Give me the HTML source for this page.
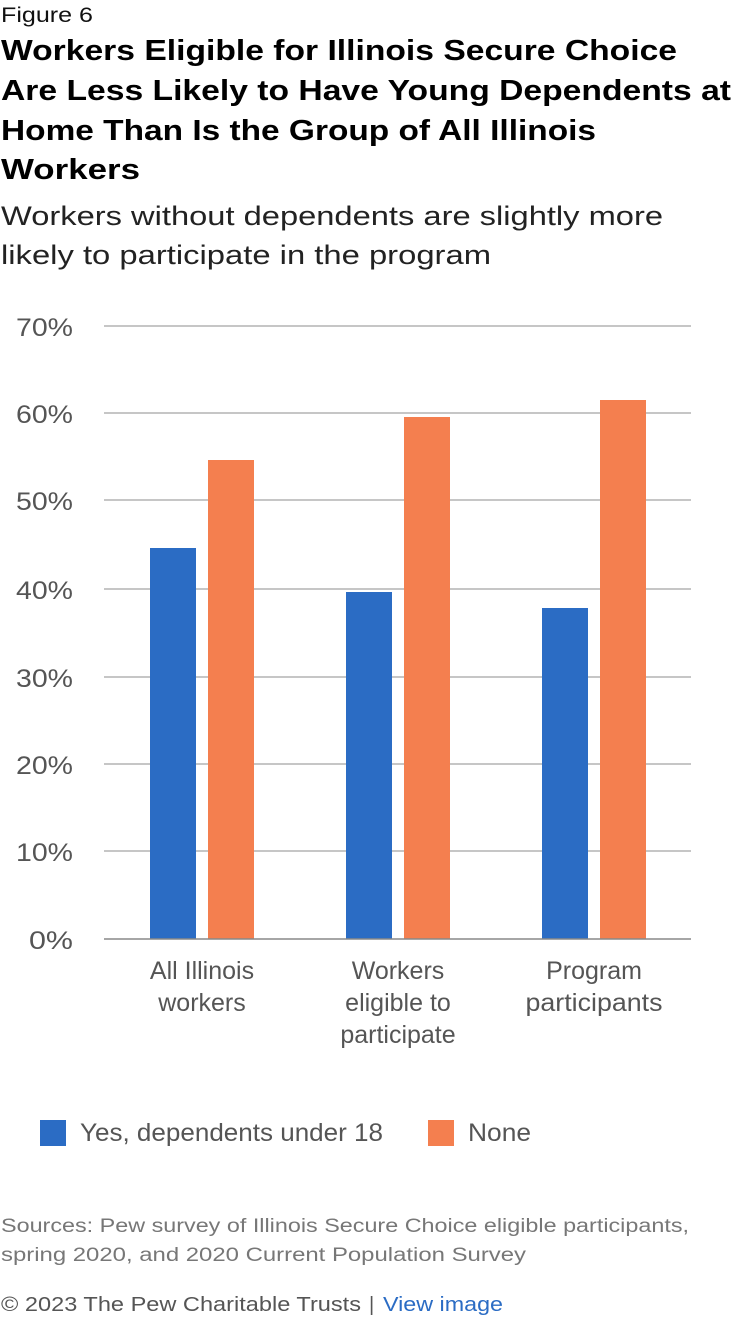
<!DOCTYPE html>
<html><head><meta charset="utf-8"><style>
html,body{margin:0;padding:0;background:#fff;}
svg{display:block;font-family:"Liberation Sans",sans-serif;}
</style></head><body>
<svg width="732" height="1318" viewBox="0 0 732 1318" xmlns="http://www.w3.org/2000/svg">
<text x="1" y="22" font-size="21" fill="#111" textLength="92" lengthAdjust="spacingAndGlyphs">Figure 6</text>
<g font-size="29" font-weight="bold" fill="#000">
<text x="1" y="60" textLength="676" lengthAdjust="spacingAndGlyphs">Workers Eligible for Illinois Secure Choice</text>
<text x="1" y="100" textLength="730" lengthAdjust="spacingAndGlyphs">Are Less Likely to Have Young Dependents at</text>
<text x="1" y="140" textLength="595" lengthAdjust="spacingAndGlyphs">Home Than Is the Group of All Illinois</text>
<text x="1" y="179" textLength="139" lengthAdjust="spacingAndGlyphs">Workers</text>
</g>
<g font-size="27" fill="#222">
<text x="1" y="225" textLength="662" lengthAdjust="spacingAndGlyphs">Workers without dependents are slightly more</text>
<text x="1" y="264" textLength="490" lengthAdjust="spacingAndGlyphs">likely to participate in the program</text>
</g>
<g stroke="#b3b3b3" stroke-width="1.5">
<line x1="104" y1="326" x2="691" y2="326"/>
<line x1="104" y1="413" x2="691" y2="413"/>
<line x1="104" y1="500" x2="691" y2="500"/>
<line x1="104" y1="589" x2="691" y2="589"/>
<line x1="104" y1="677" x2="691" y2="677"/>
<line x1="104" y1="764" x2="691" y2="764"/>
<line x1="104" y1="851" x2="691" y2="851"/>
</g>
<g font-size="25" fill="#555">
<text x="16" y="336" textLength="57" lengthAdjust="spacingAndGlyphs">70%</text>
<text x="16" y="423" textLength="57" lengthAdjust="spacingAndGlyphs">60%</text>
<text x="16" y="510" textLength="57" lengthAdjust="spacingAndGlyphs">50%</text>
<text x="16" y="599" textLength="57" lengthAdjust="spacingAndGlyphs">40%</text>
<text x="16" y="687" textLength="57" lengthAdjust="spacingAndGlyphs">30%</text>
<text x="16" y="774" textLength="57" lengthAdjust="spacingAndGlyphs">20%</text>
<text x="16" y="861" textLength="57" lengthAdjust="spacingAndGlyphs">10%</text>
<text x="29" y="949" textLength="44" lengthAdjust="spacingAndGlyphs">0%</text>
</g>
<g fill="#2b6cc4">
<rect x="150" y="548" width="46" height="391"/>
<rect x="346" y="592" width="46" height="347"/>
<rect x="542" y="608" width="46" height="331"/>
</g>
<g fill="#f47f4f">
<rect x="208" y="460" width="46" height="479"/>
<rect x="404" y="417" width="46" height="522"/>
<rect x="600" y="400" width="46" height="539"/>
</g>
<line x1="104" y1="939" x2="691" y2="939" stroke="#888" stroke-width="1.5"/>
<g font-size="25" fill="#555" text-anchor="middle">
<text x="202" y="979">All Illinois</text>
<text x="202" y="1011">workers</text>
<text x="398" y="979">Workers</text>
<text x="398" y="1011">eligible to</text>
<text x="398" y="1043">participate</text>
<text x="594" y="979">Program</text>
<text x="594" y="1011" textLength="137" lengthAdjust="spacingAndGlyphs">participants</text>
</g>
<rect x="40" y="1120" width="26" height="26" fill="#2b6cc4"/>
<text x="80" y="1141" font-size="25" fill="#555" textLength="303" lengthAdjust="spacingAndGlyphs">Yes, dependents under 18</text>
<rect x="428" y="1120" width="26" height="26" fill="#f47f4f"/>
<text x="468" y="1141" font-size="25" fill="#555" textLength="63" lengthAdjust="spacingAndGlyphs">None</text>
<g font-size="19" fill="#777">
<text x="1" y="1232" textLength="688" lengthAdjust="spacingAndGlyphs">Sources: Pew survey of Illinois Secure Choice eligible participants,</text>
<text x="1" y="1261" textLength="525" lengthAdjust="spacingAndGlyphs">spring 2020, and 2020 Current Population Survey</text>
</g>
<text x="1" y="1311" font-size="20" fill="#555" textLength="360" lengthAdjust="spacingAndGlyphs">© 2023 The Pew Charitable Trusts</text>
<text x="369" y="1311" font-size="20" fill="#555">|</text>
<text x="383" y="1311" font-size="20" fill="#2b6cc4" textLength="120" lengthAdjust="spacingAndGlyphs">View image</text>
</svg>
</body></html>
